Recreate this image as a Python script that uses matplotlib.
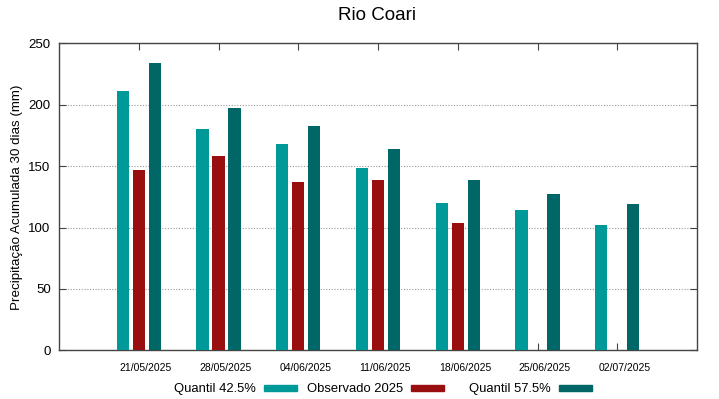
import matplotlib
matplotlib.use("Agg")
import matplotlib.pyplot as plt
from matplotlib.patches import Rectangle
import numpy as np

plt.rcParams['font.family'] = ['Liberation Sans', 'DejaVu Sans']

dates = ["21/05/2025", "28/05/2025", "04/06/2025", "11/06/2025",
         "18/06/2025", "25/06/2025", "02/07/2025"]
q425 = [211.2, 180.0, 167.7, 148.2, 120.2, 114.2, 102.0]
obs2025 = [146.8, 158.0, 137.1, 138.7, 103.4, np.nan, np.nan]
q575 = [234.0, 197.6, 182.7, 163.7, 138.9, 127.3, 118.9]

names = ["Quantil 42.5%", "Observado 2025", "Quantil 57.5%"]
colors = ["#009999", "#990f0f", "#006666"]

W, H = 719, 399
fig = plt.figure(figsize=(W/100, H/100), dpi=100)
ax = fig.add_axes([59/W, 1-350.3/H, (697-59)/W, 307/H])

x = np.arange(len(dates))
w = 0.155
off = 0.2
for i, (vals, c) in enumerate(zip([q425, obs2025, q575], colors)):
    ax.bar(x + (i-1)*off, vals, width=w, color=c, zorder=3)

ax.set_xlim(-1, 7)
ax.set_ylim(0, 250)
ax.set_yticks([0, 50, 100, 150, 200, 250])
ax.set_xticks(x)
ax.set_xticklabels([])
ax.set_xticks(x + 0.09, minor=True)
ax.set_xticklabels(dates, minor=True, fontsize=7.5)
ax.tick_params(axis='x', which='minor', length=0, pad=9)
ax.tick_params(axis='both', which='major', direction='in', length=5,
               top=True, right=True, color='#444444', labelsize=9.5)
ax.tick_params(axis='y', pad=6)
ax.grid(axis='y', linestyle=(0, (1, 1.5)), color='#999999', linewidth=0.8, zorder=1)
for s in ax.spines.values():
    s.set_color('#444444')
    s.set_linewidth(1)

ax.set_ylabel("Precipitação Acumulada 30 dias (mm)", fontsize=9.6)
ax.yaxis.set_label_coords((23-59)/638, 0.5)
fig.text(377/W, 1-16/H, "Rio Coari", ha='center', va='center', fontsize=13.5)

# gnuplot-style legend: fixed-width columns, text right-aligned before sample
col_ends = [297, 444, 592]
for name, c, xe in zip(names, colors, col_ends):
    xs = xe - 33
    fig.patches.append(Rectangle((xs/W, 1-391/H), 33/W, 6/H, color=c,
                                 transform=fig.transFigure, figure=fig))
    fig.text((xs-8)/W, 1-392/H, name, ha='right', va='baseline', fontsize=9.4)

fig.savefig("out.png", dpi=100)
